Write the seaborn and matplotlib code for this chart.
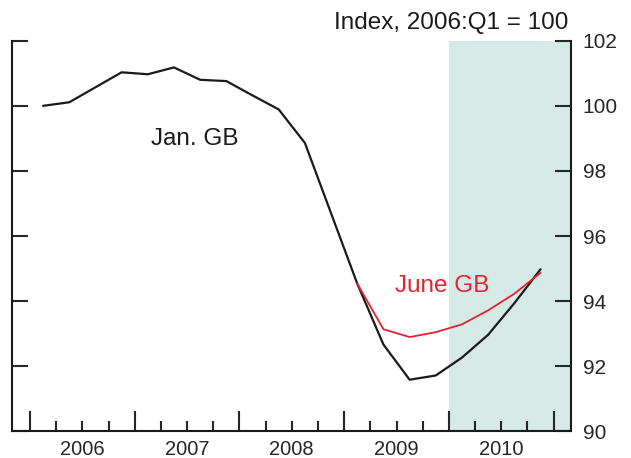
import matplotlib
matplotlib.use("Agg")
import matplotlib.pyplot as plt
import pandas as pd
import seaborn as sns

# Quarterly index values, 2006:Q1 = 100
quarters = [f"{y}Q{q}" for y in range(2006, 2011) for q in range(1, 5)]
jan_gb = [100.00, 100.11, 100.57, 101.03, 100.97, 101.18, 100.80, 100.76,
          100.32, 99.89, 98.86, 96.70, 94.54, 92.67, 91.59, 91.72,
          92.27, 92.97, 93.94, 94.98]
june_quarters = quarters[12:]
june_gb = [94.54, 93.14, 92.90, 93.05, 93.29, 93.72, 94.23, 94.87]

years = [2006, 2007, 2008, 2009, 2010]
year_labels = [str(y) for y in years]
y_ticks = [90, 92, 94, 96, 98, 100, 102]
shade_start = 2010


def quarter_mid(label):
    y, q = label.split("Q")
    return int(y) + (int(q) - 1) / 4 + 0.125


jan_df = pd.DataFrame({"t": [quarter_mid(q) for q in quarters], "v": jan_gb})
june_df = pd.DataFrame({"t": [quarter_mid(q) for q in june_quarters], "v": june_gb})

sns.set_style("ticks")
plt.rcParams["font.family"] = ["Liberation Sans", "DejaVu Sans"]

fig = plt.figure(figsize=(6.31, 4.58), dpi=100)
ax = fig.add_axes([0.0195, 0.0579, 0.8854, 0.8532])

ax.axvspan(shade_start, 2012, color="#d5e9e6", lw=0, zorder=0)

sns.lineplot(data=jan_df, x="t", y="v", ax=ax, color="#1a1a1a", lw=1.6, zorder=3)
sns.lineplot(data=june_df, x="t", y="v", ax=ax, color="#e8212e", lw=1.3, zorder=4)

ax.set_xlim(2005.831, 2011.166)
ax.set_ylim(90, 102)
ax.set_xlabel("")
ax.set_ylabel("")

# x axis: long ticks at year boundaries, short ticks at quarters
ax.set_xticks(list(range(2006, 2012)))
ax.set_xticklabels([])
ax.set_xticks([y + q / 4 for y in range(2006, 2011) for q in range(1, 4)], minor=True)
ax.tick_params(axis="x", which="major", direction="in", length=14.4, width=1.5,
               bottom=True, top=False)
ax.tick_params(axis="x", which="minor", direction="in", length=7.2, width=1.5,
               bottom=True, top=False)

# year labels centred between year boundaries
sec = ax.secondary_xaxis("bottom")
sec.set_xticks([y + 0.5 for y in years])
sec.set_xticklabels(year_labels)
sec.tick_params(length=0, pad=6, labelsize=14.5)
sec.spines["bottom"].set_visible(False)

# y axis: inward ticks on both sides, labels on the right
ax.set_yticks(y_ticks)
ax.tick_params(axis="y", which="major", direction="in", length=11.5, width=1.5,
               left=True, right=True, labelleft=False, labelright=True,
               pad=8.5, labelsize=15)
ax.grid(False)

for side in ("left", "right", "bottom"):
    ax.spines[side].set_visible(True)
    ax.spines[side].set_linewidth(1.5)
    ax.spines[side].set_color("#1a1a1a")
ax.spines["top"].set_visible(False)

ax.text(2007.57, 98.79, "Jan. GB", ha="center", va="baseline", fontsize=17.5,
        color="#1a1a1a")
ax.text(2009.94, 94.28, "June GB", ha="center", va="baseline", fontsize=17.5,
        color="#e8212e")
fig.text(0.900, 0.9367, "Index, 2006:Q1 = 100", ha="right", va="baseline",
         fontsize=17.5, color="#1a1a1a")

fig.savefig("out.png", dpi=100)
